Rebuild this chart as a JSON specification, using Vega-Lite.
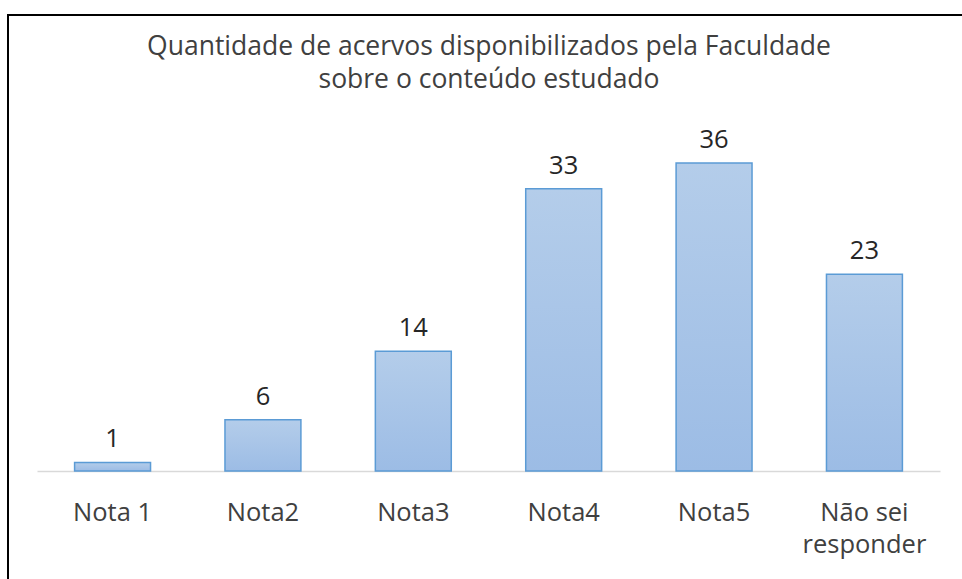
{
  "$schema": "https://vega.github.io/schema/vega-lite/v6.json",
  "autosize": "none",
  "width": 962,
  "height": 570,
  "padding": {"left": 8, "top": 15, "right": -8, "bottom": -6},
  "background": "white",
  "config": {
    "view": {"stroke": "black", "strokeWidth": 2, "fill": "white"},
    "font": "Open Sans"
  },
  "title": {
    "text": ["Quantidade de acervos disponibilizados pela Faculdade", "sobre o conteúdo estudado"],
    "anchor": "middle",
    "frame": "group",
    "baseline": "top",
    "offset": -78,
    "fontSize": 26.5,
    "fontWeight": "normal",
    "font": "Open Sans",
    "color": "#404040",
    "lineHeight": 33
  },
  "data": {
    "values": [
      {"categoria": "Nota 1", "valor": 1},
      {"categoria": "Nota2", "valor": 6},
      {"categoria": "Nota3", "valor": 14},
      {"categoria": "Nota4", "valor": 33},
      {"categoria": "Nota5", "valor": 36},
      {"categoria": "Não sei responder", "valor": 23}
    ]
  },
  "encoding": {
    "x": {
      "field": "categoria",
      "type": "nominal",
      "sort": null,
      "scale": {"range": [29, 932], "paddingInner": 0.495, "paddingOuter": 0.25},
      "axis": {
        "title": null,
        "offset": -114,
        "ticks": false,
        "domainColor": "#d9d9d9",
        "domainWidth": 1.5,
        "labelAngle": 0,
        "labelFontSize": 25.5,
        "labelFont": "Open Sans",
        "labelColor": "#404040",
        "labelPadding": 49,
        "labelLineHeight": 32,
        "labelBaseline": "alphabetic",
        "labelExpr": "datum.value == 'Não sei responder' ? ['Não sei', 'responder'] : datum.label"
      }
    },
    "y": {
      "field": "valor",
      "type": "quantitative",
      "scale": {"domain": [-13.33, 53.3], "nice": false, "zero": false},
      "axis": null
    }
  },
  "layer": [
    {
      "mark": {
        "type": "bar",
        "stroke": "#5b9bd5",
        "strokeWidth": 1.5,
        "color": {
          "gradient": "linear",
          "x1": 0, "y1": 0, "x2": 0, "y2": 1,
          "stops": [
            {"offset": 0, "color": "#b4cdea"},
            {"offset": 1, "color": "#9cbce5"}
          ]
        }
      },
      "encoding": {"y2": {"datum": 0}}
    },
    {
      "mark": {
        "type": "text",
        "baseline": "alphabetic",
        "dy": -15,
        "fontSize": 25.5,
        "font": "Open Sans",
        "color": "#262626"
      },
      "encoding": {"text": {"field": "valor", "type": "quantitative"}}
    }
  ]
}
